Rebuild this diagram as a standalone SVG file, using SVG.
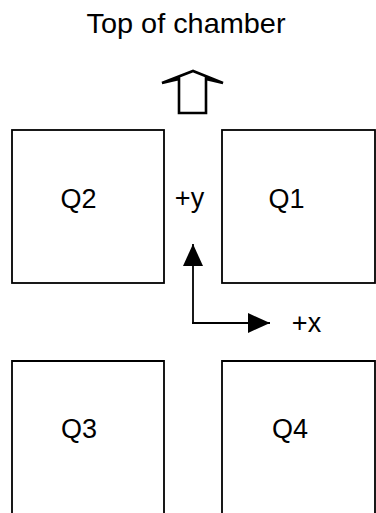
<svg xmlns="http://www.w3.org/2000/svg" width="376" height="513" viewBox="0 0 376 513">
<style>
.box{fill:none;stroke:#000;stroke-width:1.8}
.lbl{font-family:"Liberation Sans",Arial,sans-serif;font-size:27px;fill:#000;text-anchor:middle}
.ax{fill:none;stroke:#000;stroke-width:1.8}
</style>
<defs>
<marker id="ah" markerWidth="22" markerHeight="20" refX="22" refY="10" orient="auto" markerUnits="userSpaceOnUse">
<path d="M0,0 L22,10 L0,20 Z" fill="#000"/>
</marker>
</defs>
<rect width="376" height="513" fill="#fff"/>
<g id="title"><text class="lbl" x="186" y="33" style="font-size:28px" textLength="199" lengthAdjust="spacingAndGlyphs">Top of chamber</text></g>
<g id="top-arrow"><path d="M179,113 L206,113 L206,79 L223,83 L193,71 L162,83 L179,79 Z" fill="none" stroke="#000" stroke-width="2.6" stroke-linejoin="miter"/></g>
<g id="Q2"><rect class="box" x="12" y="130" width="152" height="153"/><text class="lbl" x="78.5" y="208">Q2</text></g>
<g id="Q1"><rect class="box" x="222" y="130" width="153" height="153"/><text class="lbl" x="286.5" y="208">Q1</text></g>
<g id="Q3"><path class="box" d="M12,520 V361 H164 V520"/><text class="lbl" x="79" y="438">Q3</text></g>
<g id="Q4"><path class="box" d="M222,520 V361 H375 V520"/><text class="lbl" x="290" y="438">Q4</text></g>
<g id="axes">
<path class="ax" d="M193,324 V244" marker-end="url(#ah)"/>
<path class="ax" d="M192.1,323 H270" marker-end="url(#ah)"/>
<text class="lbl" x="189.5" y="207">+y</text>
<text class="lbl" x="306.5" y="332">+x</text>
</g>
</svg>
